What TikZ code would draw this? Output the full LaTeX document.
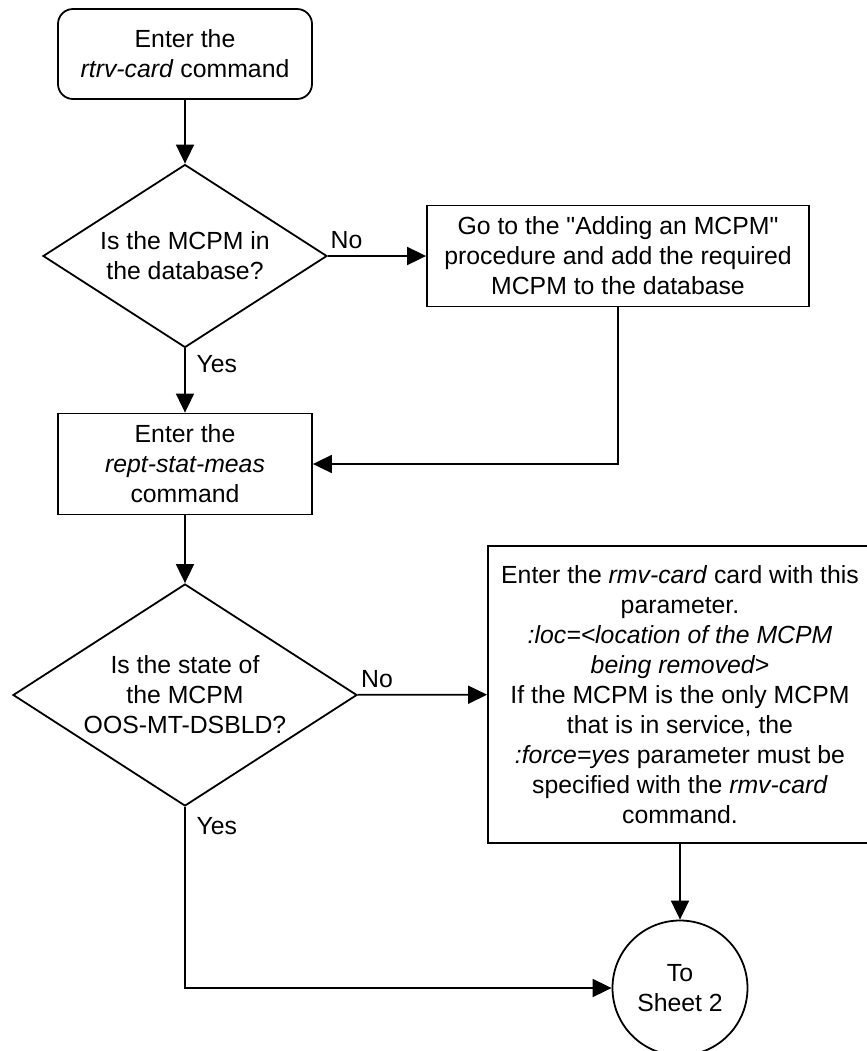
\documentclass[tikz,border=0pt]{standalone}
\usepackage{fontspec}
\setmainfont{Liberation Sans}
\usetikzlibrary{arrows.meta, positioning, shapes.geometric}
\tikzset{
  every picture/.style={line width=0.9pt},
  every node/.append style={font=\fontsize{12.4pt}{15pt}\selectfont},
  arrow/.style={-{Triangle[length=9.5pt, width=9pt]}},
  proc/.style={draw, rectangle, align=center, inner sep=0pt, minimum height=50.5pt},
  term/.style={draw, rounded corners=7.5pt, align=center, inner sep=0pt, minimum width=127pt, minimum height=45pt},
}

\begin{document}
\begin{tikzpicture}[x=0.5pt, y=-0.5pt,
    dec/.style={draw, diamond, aspect=1.55, inner sep=0pt, align=center},
    conn/.style={draw, circle, inner sep=0pt, minimum size=67.5pt, align=center}]
  \useasboundingbox (0,0) rectangle (867,1051);
  \node[term] (start) at (185,54) {Enter the\\\textit{rtrv-card} command};
  \node[dec, minimum width=142pt, minimum height=91.5pt] (indb) at (185,256) {Is the MCPM in\\the database?};
  \node[proc, minimum width=191pt] (addmcpm) at (618,256) {Go to the \textquotedbl Adding an MCPM\textquotedbl\\procedure and add the required\\MCPM to the database};
  \node[proc, minimum width=127pt] (meas) at (185,464) {Enter the\\\textit{rept-stat-meas}\\command};
  \node[dec, minimum width=172pt, minimum height=111pt] (oos) at (185,695) {Is the state of\\the MCPM\\OOS-MT-DSBLD?};
  \node[proc, minimum width=192pt, minimum height=148.5pt] (rmv) at (680,694.5) {Enter the \textit{rmv-card} card with this\\parameter.\\\textit{:loc=<location of the MCPM}\\\textit{being removed>}\\If the MCPM is the only MCPM\\that is in service, the\\\textit{:force=yes} parameter must be\\specified with the \textit{rmv-card}\\command.};
  \node[conn] (sheet2) at (680,988) {To\\Sheet 2};

  \draw[arrow] (start) -- (indb);
  \draw[arrow] (indb) -- node[pos=0.19, above] (no1) {No} (addmcpm);
  \draw[arrow] (indb) -- node[pos=0.24, right=2pt] (yes1) {Yes} (meas);
  \draw[arrow] (addmcpm) |- (meas);
  \draw[arrow] (meas) -- (oos);
  \draw[arrow] (oos) -- node[pos=0.15, above] (no2) {No} (rmv);
  \draw[arrow] (rmv) -- (sheet2);
  \draw[arrow] (oos) |- node[pos=0.052, right=2pt] (yes2) {Yes} (sheet2);
\end{tikzpicture}
\end{document}
